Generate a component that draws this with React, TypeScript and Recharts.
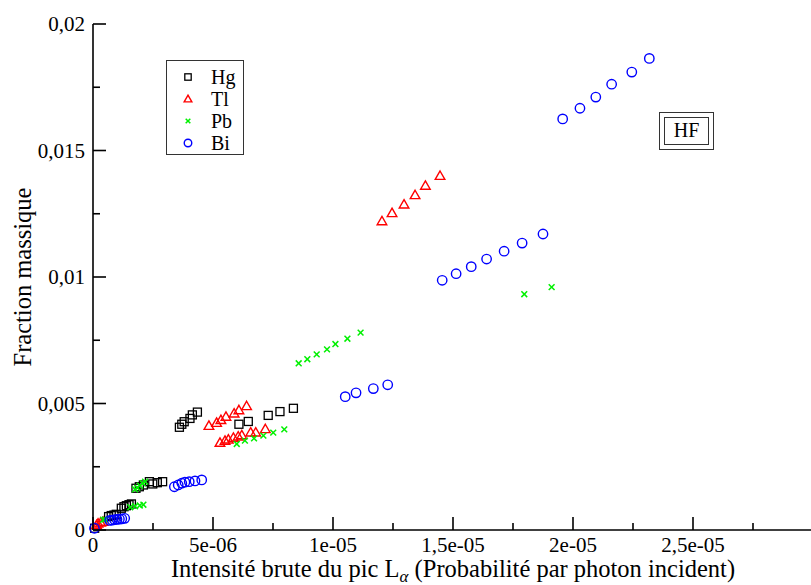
import React from 'react';
import { ScatterChart, Scatter, XAxis, YAxis, Legend } from 'recharts';

// Values (x: probability per incident photon, y: mass fraction)
const hgPoints = [
  { x: 0.07e-6, y: 0.07e-3 },
  { x: 0.65e-6, y: 0.53e-3 }, { x: 0.76e-6, y: 0.57e-3 }, { x: 0.875e-6, y: 0.59e-3 }, { x: 0.97e-6, y: 0.62e-3 },
  { x: 1.18e-6, y: 0.86e-3 }, { x: 1.29e-6, y: 0.92e-3 }, { x: 1.39e-6, y: 0.96e-3 }, { x: 1.5e-6, y: 1.0e-3 }, { x: 1.6e-6, y: 1.03e-3 },
  { x: 1.79e-6, y: 1.65e-3 }, { x: 1.93e-6, y: 1.71e-3 }, { x: 2.1e-6, y: 1.78e-3 }, { x: 2.35e-6, y: 1.91e-3 },
  { x: 2.49e-6, y: 1.82e-3 }, { x: 2.68e-6, y: 1.87e-3 }, { x: 2.9e-6, y: 1.91e-3 },
  { x: 3.6e-6, y: 4.06e-3 }, { x: 3.7e-6, y: 4.18e-3 }, { x: 3.8e-6, y: 4.28e-3 }, { x: 4.04e-6, y: 4.41e-3 },
  { x: 4.14e-6, y: 4.55e-3 }, { x: 4.35e-6, y: 4.66e-3 },
  { x: 6.08e-6, y: 4.18e-3 }, { x: 6.47e-6, y: 4.29e-3 }, { x: 7.3e-6, y: 4.53e-3 }, { x: 7.79e-6, y: 4.68e-3 }, { x: 8.35e-6, y: 4.81e-3 },
];

const tlPoints = [
  { x: 0.15e-6, y: 0.2e-3 }, { x: 0.21e-6, y: 0.26e-3 }, { x: 0.32e-6, y: 0.3e-3 }, { x: 0.42e-6, y: 0.33e-3 },
  { x: 4.83e-6, y: 4.12e-3 }, { x: 5.15e-6, y: 4.24e-3 }, { x: 5.33e-6, y: 4.35e-3 }, { x: 5.54e-6, y: 4.48e-3 },
  { x: 5.88e-6, y: 4.61e-3 }, { x: 6.08e-6, y: 4.74e-3 }, { x: 6.4e-6, y: 4.9e-3 },
  { x: 5.29e-6, y: 3.45e-3 }, { x: 5.5e-6, y: 3.53e-3 }, { x: 5.64e-6, y: 3.58e-3 }, { x: 5.85e-6, y: 3.65e-3 },
  { x: 6.05e-6, y: 3.7e-3 }, { x: 6.2e-6, y: 3.75e-3 }, { x: 6.57e-6, y: 3.86e-3 }, { x: 6.78e-6, y: 3.86e-3 }, { x: 7.18e-6, y: 3.99e-3 },
  { x: 12.04e-6, y: 12.21e-3 }, { x: 12.46e-6, y: 12.53e-3 }, { x: 12.96e-6, y: 12.87e-3 },
  { x: 13.42e-6, y: 13.24e-3 }, { x: 13.85e-6, y: 13.61e-3 }, { x: 14.46e-6, y: 14.0e-3 },
];

const pbPoints = [
  { x: 0.42e-6, y: 0.4e-3 }, { x: 0.5e-6, y: 0.42e-3 },
  { x: 1.55e-6, y: 0.9e-3 }, { x: 1.75e-6, y: 0.94e-3 }, { x: 1.95e-6, y: 0.97e-3 }, { x: 2.1e-6, y: 1.0e-3 },
  { x: 1.75e-6, y: 1.61e-3 }, { x: 1.85e-6, y: 1.67e-3 }, { x: 1.96e-6, y: 1.75e-3 }, { x: 2.07e-6, y: 1.85e-3 }, { x: 2.17e-6, y: 1.91e-3 },
  { x: 5.99e-6, y: 3.4e-3 }, { x: 6.33e-6, y: 3.53e-3 }, { x: 6.71e-6, y: 3.62e-3 }, { x: 7.1e-6, y: 3.73e-3 },
  { x: 7.51e-6, y: 3.85e-3 }, { x: 7.97e-6, y: 3.98e-3 },
  { x: 8.57e-6, y: 6.59e-3 }, { x: 8.93e-6, y: 6.75e-3 }, { x: 9.32e-6, y: 6.94e-3 }, { x: 9.75e-6, y: 7.14e-3 },
  { x: 10.1e-6, y: 7.35e-3 }, { x: 10.6e-6, y: 7.56e-3 }, { x: 11.15e-6, y: 7.8e-3 },
  { x: 17.97e-6, y: 9.32e-3 }, { x: 19.11e-6, y: 9.6e-3 },
];

const biPoints = [
  { x: 0.06e-6, y: 0.07e-3 },
  { x: 0.7e-6, y: 0.38e-3 }, { x: 0.8e-6, y: 0.39e-3 }, { x: 0.9e-6, y: 0.41e-3 }, { x: 1.0e-6, y: 0.42e-3 },
  { x: 1.1e-6, y: 0.43e-3 }, { x: 1.2e-6, y: 0.44e-3 }, { x: 1.32e-6, y: 0.46e-3 },
  { x: 3.39e-6, y: 1.71e-3 }, { x: 3.55e-6, y: 1.78e-3 }, { x: 3.7e-6, y: 1.85e-3 }, { x: 3.83e-6, y: 1.89e-3 },
  { x: 4.01e-6, y: 1.91e-3 }, { x: 4.25e-6, y: 1.94e-3 }, { x: 4.53e-6, y: 1.98e-3 },
  { x: 10.51e-6, y: 5.27e-3 }, { x: 10.96e-6, y: 5.42e-3 }, { x: 11.68e-6, y: 5.59e-3 }, { x: 12.28e-6, y: 5.74e-3 },
  { x: 14.55e-6, y: 9.87e-3 }, { x: 15.13e-6, y: 10.13e-3 }, { x: 15.76e-6, y: 10.41e-3 }, { x: 16.4e-6, y: 10.71e-3 },
  { x: 17.13e-6, y: 11.02e-3 }, { x: 17.88e-6, y: 11.34e-3 }, { x: 18.75e-6, y: 11.7e-3 },
  { x: 19.57e-6, y: 16.25e-3 }, { x: 20.29e-6, y: 16.67e-3 }, { x: 20.95e-6, y: 17.11e-3 },
  { x: 21.61e-6, y: 17.62e-3 }, { x: 22.45e-6, y: 18.1e-3 }, { x: 23.18e-6, y: 18.64e-3 },
];

const seriesNames = ['Hg', 'Tl', 'Pb', 'Bi'];
const seriesColors = ['#000000', '#ff0000', '#00f000', '#0000ff'];
const seriesShapes = ['square', 'triangle', 'cross', 'circle'];
const seriesData = [hgPoints, tlPoints, pbPoints, biPoints];

const xMajorTicks = [0, 5e-6, 1e-5, 1.5e-5, 2e-5, 2.5e-5, 3e-5];
// the 3e-05 label falls outside the visible frame in the original
const xTickLabels = ['0', '5e-06', '1e-05', '1,5e-05', '2e-05', '2,5e-05', ''];
const xMinorTicks = [2.5e-6, 7.5e-6, 1.25e-5, 1.75e-5, 2.25e-5, 2.75e-5];
const yMajorTicks = [0, 0.005, 0.01, 0.015, 0.02];
const yTickLabels = ['0', '0,005', '0,01', '0,015', '0,02'];
const yMinorTicks = [0.0025, 0.0075, 0.0125, 0.0175];

const allXTicks = [...xMajorTicks, ...xMinorTicks].sort((a, b) => a - b);
const allYTicks = [...yMajorTicks, ...yMinorTicks].sort((a, b) => a - b);

const FONT = '"Liberation Serif", "Times New Roman", serif';

const Marker = ({ cx, cy, kind, color, s = 1 }: any) => {
  if (cx == null || cy == null) return null;
  if (kind === 'square') {
    const h = 4 * s;
    return <rect x={cx - h} y={cy - h} width={2 * h} height={2 * h} fill="none" stroke={color} strokeWidth={1.3} />;
  }
  if (kind === 'triangle') {
    const w = 4.8 * s;
    return (
      <polygon
        points={`${cx},${cy - w} ${cx + w},${cy + w * 0.75} ${cx - w},${cy + w * 0.75}`}
        fill="none"
        stroke={color}
        strokeWidth={1.4}
      />
    );
  }
  if (kind === 'cross') {
    const c = 2.9 * s;
    return (
      <g stroke={color} strokeWidth={1.5}>
        <line x1={cx - c} y1={cy - c} x2={cx + c} y2={cy + c} />
        <line x1={cx - c} y1={cy + c} x2={cx + c} y2={cy - c} />
      </g>
    );
  }
  return <circle cx={cx} cy={cy} r={4.7 * s} fill="none" stroke={color} strokeWidth={1.4} />;
};

const findMajor = (v: number, majors: number[]) => majors.findIndex((m) => Math.abs(m - v) < 1e-12);

const AxisTick = ({ x, y, payload, side }: any) => {
  const isX = side === 'bottom' || side === 'top';
  const i = findMajor(payload.value, isX ? xMajorTicks : yMajorTicks);
  const len = i >= 0 ? 13 : 7;
  let x2 = x;
  let y2 = y;
  if (side === 'bottom') y2 = y - len;
  if (side === 'top') y2 = y + len;
  if (side === 'left') x2 = x + len;
  if (side === 'right') x2 = x - len;
  return (
    <g>
      <line x1={x} y1={y} x2={x2} y2={y2} stroke="#000" strokeWidth={1.6} />
      {i >= 0 && side === 'bottom' && xTickLabels[i] && (
        <text x={x} y={y + 22} textAnchor="middle" fontFamily={FONT} fontSize={21} fill="#000">
          {xTickLabels[i]}
        </text>
      )}
      {i >= 0 && side === 'left' && (
        <text x={x - 8} y={y + 7} textAnchor="end" fontFamily={FONT} fontSize={21} fill="#000">
          {yTickLabels[i]}
        </text>
      )}
    </g>
  );
};

const XTitle = ({ viewBox }: any) => {
  const cx = viewBox.x + viewBox.width / 2;
  return (
    <text x={cx} y={viewBox.y + 47} textAnchor="middle" fontFamily={FONT} fontSize={24.5} fill="#000">
      <tspan>Intensité brute du pic L</tspan>
      <tspan dy={5} fontSize={17} fontStyle="italic">α</tspan>
      <tspan dy={-5}> (Probabilité par photon incident)</tspan>
    </text>
  );
};

const YTitle = ({ viewBox }: any) => {
  const cy = viewBox.y + viewBox.height / 2;
  return (
    <text
      x={22}
      y={cy}
      transform={`rotate(-90, 22, ${cy})`}
      textAnchor="middle"
      dominantBaseline="central"
      fontFamily={FONT}
      fontSize={24.5}
      fill="#000"
    >
      Fraction massique
    </text>
  );
};

const LegendBox = () => (
  <div
    style={{
      border: '1.3px solid #333',
      width: 78,
      height: 95,
      boxSizing: 'border-box',
      background: '#fff',
      paddingTop: 5,
    }}
  >
    {seriesNames.map((name, i) => (
      <div key={name} style={{ display: 'flex', alignItems: 'center', height: 22 }}>
        <svg width={44} height={20}>
          <Marker kind={seriesShapes[i]} color={seriesColors[i]} cx={21} cy={10} s={0.8} />
        </svg>
        <span style={{ fontFamily: FONT, fontSize: 20, color: '#000', lineHeight: '20px' }}>{name}</span>
      </div>
    ))}
  </div>
);

export default function App() {
  return (
    <div style={{ position: 'absolute', left: 0, top: 0, width: 811, height: 585, overflow: 'hidden', background: '#fff' }}>
      <ScatterChart width={830} height={585} margin={{ top: 24, right: 17, bottom: 0, left: 0 }}>
        <XAxis
          xAxisId="b"
          type="number"
          dataKey="x"
          domain={[0, 3e-5]}
          ticks={allXTicks}
          interval={0}
          orientation="bottom"
          height={55}
          tickSize={0}
          tickMargin={0}
          tickLine={false}
          axisLine={{ stroke: '#000', strokeWidth: 1.6 }}
          tick={(p: any) => <AxisTick {...p} side="bottom" />}
          label={(p: any) => <XTitle {...p} />}
        />
        <XAxis
          xAxisId="t"
          type="number"
          dataKey="x"
          domain={[0, 3e-5]}
          ticks={allXTicks}
          interval={0}
          orientation="top"
          height={0}
          tickSize={0}
          tickMargin={0}
          tickLine={false}
          axisLine={{ stroke: '#000', strokeWidth: 1.6 }}
          tick={(p: any) => <AxisTick {...p} side="top" />}
        />
        <YAxis
          yAxisId="l"
          type="number"
          dataKey="y"
          domain={[0, 0.02]}
          ticks={allYTicks}
          interval={0}
          orientation="left"
          width={93}
          tickSize={0}
          tickMargin={0}
          tickLine={false}
          axisLine={{ stroke: '#000', strokeWidth: 1.6 }}
          tick={(p: any) => <AxisTick {...p} side="left" />}
          label={(p: any) => <YTitle {...p} />}
        />
        <YAxis
          yAxisId="r"
          type="number"
          dataKey="y"
          domain={[0, 0.02]}
          ticks={allYTicks}
          interval={0}
          orientation="right"
          width={0}
          tickSize={0}
          tickMargin={0}
          tickLine={false}
          axisLine={{ stroke: '#000', strokeWidth: 1.6 }}
          tick={(p: any) => <AxisTick {...p} side="right" />}
        />
        <Legend
          layout="vertical"
          align="center"
          verticalAlign="middle"
          wrapperStyle={{ left: 166, top: 60, width: 78, height: 95 }}
          content={() => <LegendBox />}
        />
        {seriesData.map((pts, i) => (
          <Scatter
            key={seriesNames[i]}
            name={seriesNames[i]}
            data={pts}
            xAxisId="b"
            yAxisId="l"
            fill={seriesColors[i]}
            isAnimationActive={false}
            shape={(p: any) => <Marker cx={p.cx} cy={p.cy} kind={seriesShapes[i]} color={seriesColors[i]} />}
          />
        ))}
      </ScatterChart>
      <div
        style={{
          position: 'absolute',
          left: 659,
          top: 112,
          width: 55,
          height: 38,
          boxSizing: 'border-box',
          border: '1.3px solid #333',
          padding: 4,
          background: '#fff',
        }}
      >
        <div
          style={{
            border: '1.3px solid #333',
            height: '100%',
            boxSizing: 'border-box',
            fontFamily: FONT,
            fontSize: 20,
            lineHeight: '25px',
            textAlign: 'center',
            color: '#000',
          }}
        >
          HF
        </div>
      </div>
    </div>
  );
}
